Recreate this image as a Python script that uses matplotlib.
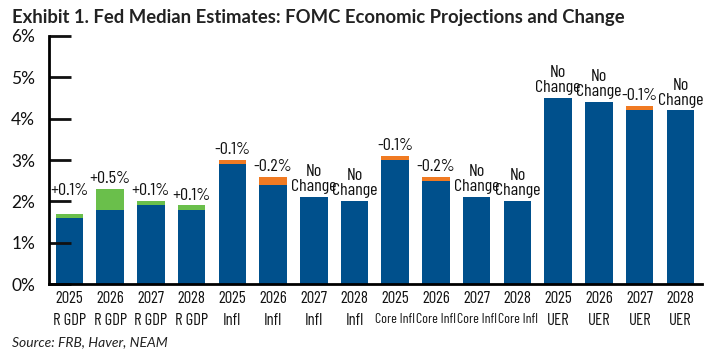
import matplotlib.pyplot as plt

years = ["2025", "2026", "2027", "2028"] * 4
groups = ["R GDP"] * 4 + ["Infl"] * 4 + ["Core Infl"] * 4 + ["UER"] * 4
current = [1.6, 1.8, 1.9, 1.8, 2.9, 2.4, 2.1, 2.0,
           3.0, 2.5, 2.1, 2.0, 4.5, 4.4, 4.2, 4.2]
# change segment drawn on top of the blue bar (green = up, orange = down)
up = [0.1, 0.5, 0.1, 0.1, 0, 0, 0, 0, 0, 0, 0, 0, 0, 0, 0, 0]
down = [0, 0, 0, 0, 0.1, 0.2, 0, 0, 0.1, 0.1, 0, 0, 0, 0, 0.1, 0]
change_labels = ["+0.1%", "+0.5%", "+0.1%", "+0.1%", "-0.1%", "-0.2%",
                 "No\nChange", "No\nChange", "-0.1%", "-0.2%", "No\nChange",
                 "No\nChange", "No\nChange", "No\nChange", "-0.1%", "No\nChange"]

blue = "#00508C"
green = "#6ABF4B"
orange = "#F07A22"
narrow = ["Barlow Condensed", "DejaVu Sans"]
wide = ["Lato", "DejaVu Sans"]

fig = plt.figure(figsize=(7.11, 3.56), dpi=100)
ax = fig.add_axes([0.0689, 0.2022, 0.9184, 0.6967])

x = list(range(len(current)))
w = 0.675
ax.bar(x, current, width=w, color=blue)
ax.bar(x, up, width=w, bottom=current, color=green)
ax.bar(x, down, width=w, bottom=current, color=orange)

for i in x:
    top = current[i] + up[i] + down[i]
    pad = 0.38 if i == 0 else 0.07  # first label sits higher in the original
    ax.text(i, top + pad, change_labels[i], ha="center", va="bottom",
            fontsize=13, family=narrow, linespacing=1.0, color="#111111")

ax.set_xlim(-0.5, 15.53)
ax.set_ylim(0, 6)
ax.set_yticks(range(7))
ax.set_yticklabels([f"{v}%" for v in range(7)], fontsize=12.5, family=wide)
ax.set_xticks(x)
ax.set_xticklabels(years, fontsize=12, family=narrow)
for i, g in enumerate(groups):
    ax.text(i, -0.70, g, ha="center", va="top", fontsize=10 if g == "Core Infl" else 12,
            family=narrow, color="#111111")
ax.tick_params(axis="y", direction="in", length=16, width=2, pad=10, colors="#111111")
ax.tick_params(axis="x", length=0, pad=5, colors="#111111")
for s in ["top", "right"]:
    ax.spines[s].set_visible(False)
ax.spines["left"].set_linewidth(2)
ax.spines["bottom"].set_linewidth(2)

fig.text(0.017, 0.952, "Exhibit 1. Fed Median Estimates: FOMC Economic Projections and Change",
         fontsize=13.3, fontweight="bold", family=wide, va="center", color="#222222")
fig.text(0.017, 0.04, "Source: FRB, Haver, NEAM", fontsize=10, style="italic",
         family=wide, va="center", color="#222222")

fig.savefig("out.png", dpi=100)
